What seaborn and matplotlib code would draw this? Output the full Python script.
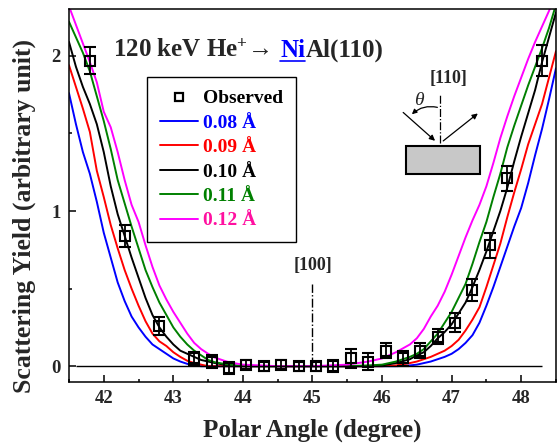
import matplotlib
matplotlib.use('Agg')
import matplotlib.pyplot as plt
import seaborn as sns
import pandas as pd
from matplotlib.lines import Line2D
from matplotlib.patches import Rectangle
from matplotlib.ticker import MultipleLocator

# polar angle grid of the simulated curves (degree)
angle = [41.5, 41.6, 41.7, 41.8, 41.9, 42.0, 42.1, 42.2, 42.3, 42.4, 42.5,
         42.6, 42.7, 42.8, 42.9, 43.0, 43.1, 43.2, 43.3, 43.4, 43.5, 43.6,
         43.8, 44.0, 44.5, 45.0, 45.5, 45.8, 46.0, 46.2,
         46.4, 46.5, 46.6, 46.7, 46.8, 46.9, 47.0, 47.1, 47.2, 47.3, 47.4,
         47.5, 47.6, 47.7, 47.8, 47.9, 48.0, 48.1, 48.2, 48.3, 48.4, 48.5]

y_008 = [1.76, 1.56, 1.38, 1.24, 1.06, 0.86, 0.70, 0.54, 0.42, 0.32, 0.25,
         0.19, 0.14, 0.11, 0.08, 0.05, 0.03, 0.015, 0.005, 0, 0, 0,
         0, 0, 0, 0, 0, 0, 0, 0,
         0.005, 0.01, 0.02, 0.03, 0.045, 0.06, 0.08, 0.11, 0.15, 0.20, 0.28,
         0.39, 0.51, 0.64, 0.77, 0.90, 1.02, 1.18, 1.36, 1.53, 1.72, 1.92]
y_009 = [1.94, 1.80, 1.66, 1.51, 1.26, 1.09, 0.91, 0.76, 0.62, 0.50, 0.39,
         0.29, 0.21, 0.16, 0.13, 0.09, 0.06, 0.035, 0.02, 0.01, 0, 0,
         0, 0, 0, 0, 0, 0, 0, 0.005,
         0.02, 0.03, 0.045, 0.06, 0.08, 0.10, 0.13, 0.17, 0.23, 0.30, 0.38,
         0.51, 0.65, 0.79, 0.96, 1.12, 1.27, 1.43, 1.56, 1.69, 1.86, 2.03]
y_010 = [2.09, 1.93, 1.80, 1.69, 1.56, 1.38, 1.16, 0.98, 0.84, 0.70, 0.57,
         0.44, 0.33, 0.25, 0.19, 0.14, 0.10, 0.08, 0.06, 0.04, 0.03, 0.02,
         0.005, 0, 0, 0, 0, 0, 0.005, 0.02,
         0.045, 0.07, 0.09, 0.13, 0.18, 0.22, 0.27, 0.34, 0.41, 0.51, 0.62,
         0.74, 0.87, 1.00, 1.15, 1.32, 1.48, 1.63, 1.78, 1.96, 2.12, 2.28]
y_011 = [2.22, 2.12, 2.02, 1.90, 1.74, 1.58, 1.40, 1.20, 1.05, 0.90, 0.76,
         0.62, 0.51, 0.41, 0.33, 0.25, 0.19, 0.14, 0.10, 0.07, 0.04, 0.025,
         0.01, 0, 0, 0, 0, 0.005, 0.01, 0.03,
         0.06, 0.08, 0.11, 0.16, 0.21, 0.28, 0.35, 0.44, 0.53, 0.66, 0.80,
         0.93, 1.09, 1.24, 1.41, 1.55, 1.68, 1.81, 1.93, 2.05, 2.18, 2.33]
y_012 = [2.32, 2.20, 2.08, 1.96, 1.83, 1.64, 1.54, 1.38, 1.20, 1.04, 0.93,
         0.78, 0.64, 0.52, 0.43, 0.35, 0.28, 0.21, 0.15, 0.11, 0.08, 0.055,
         0.025, 0.01, 0, 0, 0.01, 0.03, 0.05, 0.09,
         0.14, 0.18, 0.24, 0.32, 0.39, 0.48, 0.59, 0.71, 0.83, 0.94, 1.04,
         1.16, 1.31, 1.47, 1.61, 1.74, 1.86, 1.98, 2.09, 2.19, 2.29, 2.40]

labels = ['0.08 Å', '0.09 Å', '0.10 Å', '0.11 Å', '0.12 Å']
colors = ['#0000ff', '#ff0000', '#000000', '#008000', '#ff00ff']
text_colors = ['#000000', '#0000ff', '#ff0000', '#000000', '#008000', '#ff10a0']

# measured points
obs_angle = [41.8, 42.3, 42.8, 43.3, 43.55, 43.8, 44.05, 44.3, 44.55, 44.8,
             45.05, 45.3, 45.55, 45.8, 46.05, 46.3, 46.55, 46.8, 47.05, 47.3,
             47.55, 47.8, 48.3]
obs_yield = [1.97, 0.84, 0.26, 0.05, 0.03, -0.01, 0.01, 0.0, 0.01, 0.0,
             0.0, 0.0, 0.05, 0.03, 0.10, 0.05, 0.10, 0.19, 0.28, 0.49,
             0.78, 1.21, 1.97]
obs_err = [0.09, 0.07, 0.06, 0.04, 0.04, 0.04, 0.03, 0.03, 0.03, 0.03,
           0.03, 0.04, 0.06, 0.055, 0.05, 0.05, 0.05, 0.05, 0.06, 0.07,
           0.08, 0.08, 0.10]

sns.set_style('ticks')
plt.rcParams['font.family'] = ['Liberation Serif', 'DejaVu Serif']
plt.rcParams['font.weight'] = 'bold'
plt.rcParams['mathtext.default'] = 'regular'

curves = [y_008, y_009, y_010, y_011, y_012]
df = pd.DataFrame({
    'angle': angle * len(curves),
    'yield': sum(curves, []),
    'width': sum([[lab] * len(angle) for lab in labels], []),
})

fig = plt.figure(figsize=(5.59, 4.44), dpi=100)
ax = fig.add_axes([0.1234, 0.1403, 0.8712, 0.8387])

sns.lineplot(data=df, x='angle', y='yield', hue='width',
             palette=dict(zip(labels, colors)), estimator=None, sort=False,
             lw=1.4, legend=False, ax=ax)

ax.errorbar(obs_angle, obs_yield, yerr=obs_err, fmt='s', mfc='none', mec='k',
            ms=7.5, mew=1.5, ecolor='k', elinewidth=1.3, capsize=4,
            capthick=1.3, zorder=5)

ax.hlines(0, 41.6, 48.3, colors='k', lw=1)
ax.vlines(45, 0, 0.53, colors='k', linestyles='-.', lw=1)
ax.text(0.501, 0.313, '[100]', transform=ax.transAxes, ha='center',
        va='center', fontsize=13)

ax.set_xlim(41.5, 48.5)
ax.set_ylim(-0.1, 2.3)
ax.xaxis.set_major_locator(MultipleLocator(1))
ax.xaxis.set_minor_locator(MultipleLocator(0.5))
ax.yaxis.set_major_locator(MultipleLocator(1))
ax.yaxis.set_minor_locator(MultipleLocator(0.5))
ax.tick_params(which='both', direction='in', top=False, right=False,
               color='k', width=1.1)
ax.tick_params(which='major', length=5, labelsize=13.5, pad=6)
ax.tick_params(which='minor', length=2.5)
for s in ax.spines.values():
    s.set_linewidth(1.1)
    s.set_color('k')
ax.set_xlabel('Polar Angle (degree)', fontsize=18, fontweight='bold', labelpad=8)
ax.set_ylabel('Scattering Yield (arbitrary unit)', fontsize=18.5,
              fontweight='bold')
ax.yaxis.set_label_coords(-0.068, 0.446)

# legend
h_obs = Line2D([], [], ls='none', marker='s', mfc='none', mec='k', ms=5.5, mew=1.6)
h_lines = [Line2D([], [], color=c, lw=1.4) for c in colors]
leg = ax.legend([h_obs] + h_lines, ['Observed'] + labels, loc='upper left',
                bbox_to_anchor=(0.16, 0.818), frameon=True, fancybox=False,
                edgecolor='k', framealpha=1, fontsize=14, handlelength=2.0,
                handletextpad=0.26, borderpad=0.65, labelspacing=0.35,
                borderaxespad=0)
leg.get_frame().set_linewidth(1.0)
for t, c in zip(leg.get_texts(), text_colors):
    t.set_color(c)

# title line: 120 keV He+ -> NiAl(110)
ybase = 0.872
t1 = ax.text(0.09, ybase, '120 keV He$^{+}$\u2192  ', transform=ax.transAxes,
             fontsize=18, va='baseline', ha='left')
fig.canvas.draw()
r = fig.canvas.get_renderer()
inv = ax.transAxes.inverted()
x1 = inv.transform(t1.get_window_extent(r).get_points())[1, 0]
t2 = ax.text(x1, ybase, 'Ni', transform=ax.transAxes, fontsize=18,
             va='baseline', ha='left', color='#0000ff')
fig.canvas.draw()
bb2 = inv.transform(t2.get_window_extent(r).get_points())
ax.text(bb2[1, 0], ybase, 'Al(110)', transform=ax.transAxes, fontsize=18,
        va='baseline', ha='left')
ax.plot([bb2[0, 0], bb2[1, 0]], [ybase - 0.01, ybase - 0.01],
        transform=ax.transAxes, color='#0000ff', lw=1.2, clip_on=False)

# inset sketch
ax.add_patch(Rectangle((0.692, 0.558), 0.152, 0.076, transform=ax.transAxes,
                       fc='#c8c8c8', ec='k', lw=1.5))
ax.plot([0.762, 0.762], [0.641, 0.770], transform=ax.transAxes, ls='-.',
        color='k', lw=0.9)
arr = dict(arrowstyle='-|>', color='k', lw=0.9, mutation_scale=8)
ax.annotate('', xy=(0.756, 0.642), xytext=(0.682, 0.728),
            xycoords='axes fraction', arrowprops=arr)
ax.annotate('', xy=(0.844, 0.725), xytext=(0.764, 0.642),
            xycoords='axes fraction', arrowprops=arr)
ax.annotate('', xy=(0.700, 0.713), xytext=(0.762, 0.735),
            xycoords='axes fraction',
            arrowprops=dict(arrowstyle='-|>', color='k', lw=0.9,
                            mutation_scale=7, connectionstyle='arc3,rad=0.3'))
ax.text(0.719, 0.754, '\u03b8', transform=ax.transAxes, fontsize=14,
        fontstyle='italic', fontweight='normal', ha='center', va='center')
ax.text(0.780, 0.815, '[110]', transform=ax.transAxes, fontsize=13,
        ha='center', va='center')

fig.savefig('out.png', dpi=100)
